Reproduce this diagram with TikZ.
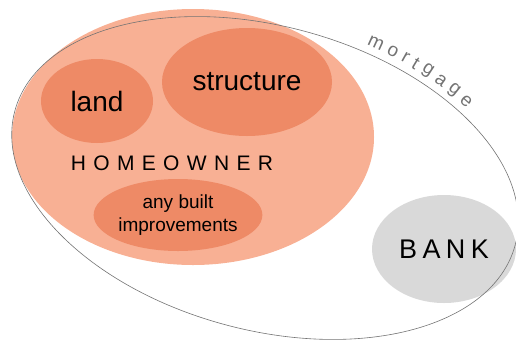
\documentclass[tikz,border=0pt]{standalone}
\usepackage{fontspec}
\setmainfont{Liberation Sans}
\usetikzlibrary{shapes.geometric,decorations.text}

\definecolor{ownerfill}{RGB}{248,176,148}
\definecolor{partfill}{RGB}{238,138,102}
\definecolor{bankfill}{RGB}{217,217,217}
\definecolor{lienline}{RGB}{115,115,115}

\tikzstyle{owner} = [ellipse, inner sep=0pt, fill=ownerfill]
\tikzstyle{part} = [ellipse, inner sep=0pt, fill=partfill, align=center]
\tikzstyle{lender} = [ellipse, inner sep=0pt, fill=bankfill]
\tikzstyle{lien} = [ellipse, inner sep=0pt, draw=lienline, line width=0.6pt]

\begin{document}
\begin{tikzpicture}[x=1pt, y=1pt]
      \useasboundingbox (0,0) rectangle (516,-341);
      \node (home) [owner, minimum width=362pt, minimum height=256pt] at (193,-137) {};
      \node (land) [part, minimum width=112pt, minimum height=84pt, font=\fontsize{28}{30}\selectfont] at (97,-101) {land};
      \node (struct) [part, minimum width=170pt, minimum height=108pt, font=\fontsize{28}{30}\selectfont] at (247,-82) {structure};
      \node (impr) [part, minimum width=166pt, minimum height=72pt, font=\fontsize{19}{23}\selectfont] at (178,-215) {any built\\improvements};
      \node (owner) [font=\fontsize{21}{24}\selectfont\addfontfeatures{LetterSpace=35}] at (172,-163) {HOMEOWNER};
      \node (bank) [lender, minimum width=144pt, minimum height=108pt, font=\fontsize{27}{30}\selectfont\addfontfeatures{LetterSpace=20}] at (444,-249) {BANK};
      \node (loan) [lien, minimum width=518pt, minimum height=304pt, rotate=-15] at (265,-178) {};

      % label along the loan curve
      \path[shift={(265,-178)}, rotate=-15, decorate,
        decoration={text effects along path, text={mortgage},
          text effects/.cd, fit text to path,
          every character/.style={font=\fontsize{19}{19}\selectfont, text=lienline, transform shape}}]
        (77:272 and 165) arc[start angle=77, end angle=48, x radius=272, y radius=165];
\end{tikzpicture}
\end{document}
